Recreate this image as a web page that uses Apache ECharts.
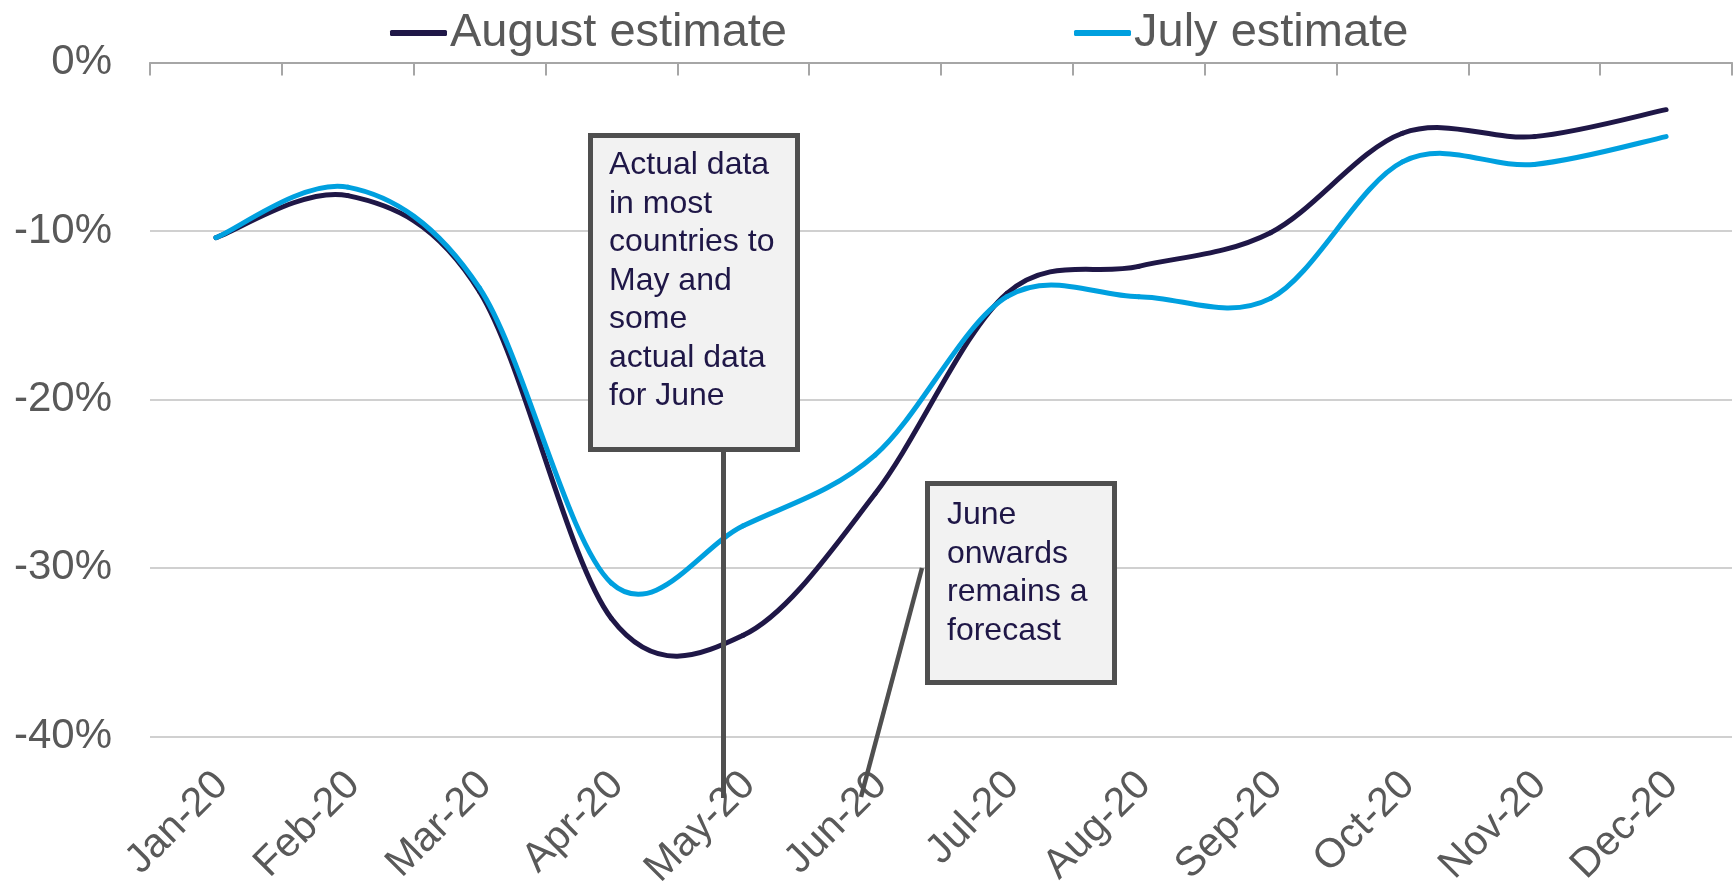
<!DOCTYPE html>
<html>
<head>
<meta charset="utf-8">
<title>GDP estimate comparison</title>
<script src="https://cdn.jsdelivr.net/npm/echarts@6/dist/echarts.min.js"></script>
<style>
  html, body { margin: 0; padding: 0; background: #ffffff; }
  #chart { width: 1734px; height: 892px; }
</style>
</head>
<body>
<div id="chart"></div>
<script>
// Monthly categories
const months = ['Jan-20', 'Feb-20', 'Mar-20', 'Apr-20', 'May-20', 'Jun-20',
                'Jul-20', 'Aug-20', 'Sep-20', 'Oct-20', 'Nov-20', 'Dec-20'];

// Percentage change, by month
const augustEstimate = [-10.4, -7.9, -13.6, -33.0, -34.0, -25.6, -13.7, -12.1, -10.1, -4.2, -4.4, -2.8];
const julyEstimate   = [-10.4, -7.4, -13.4, -30.9, -27.5, -23.3, -13.9, -13.9, -14.0, -5.9, -6.05, -4.4];

// Value axis ticks
const yMin = -40, yMax = 0, yStep = 10;

// Callout texts
const noteActual = ['Actual data', 'in most', 'countries to', 'May and', 'some', 'actual data', 'for June'];
const noteForecast = ['June', 'onwards', 'remains a', 'forecast'];

const FONT = '"Liberation Sans", Arial, Helvetica, sans-serif';
const NAVY = '#1f1747';
const BLUE = '#00a0df';
const GREY_TEXT = '#595959';
const BOX_STROKE = '#4f4f4f';

// Smoothed line drawn segment by segment: each segment i -> i+1 is a cubic
// Bezier whose control points come from the neighbouring points
// (Catmull-Rom style, one sixth of the chord between neighbours).
function smoothSegment(values, color) {
  return function (params, api) {
    const i = params.dataIndex;
    const n = values.length;
    if (i >= n - 1) return null;
    const p = (k) => api.coord([Math.max(0, Math.min(n - 1, k)), values[Math.max(0, Math.min(n - 1, k))]]);
    const p0 = p(i - 1), p1 = p(i), p2 = p(i + 1), p3 = p(i + 2);
    const t = 1 / 6;
    return {
      type: 'bezierCurve',
      shape: {
        x1: p1[0], y1: p1[1],
        cpx1: p1[0] + (p2[0] - p0[0]) * t,
        cpy1: p1[1] + (p2[1] - p0[1]) * t,
        cpx2: p2[0] - (p3[0] - p1[0]) * t,
        cpy2: p2[1] - (p3[1] - p1[1]) * t,
        x2: p2[0], y2: p2[1]
      },
      style: { stroke: color, lineWidth: 5, fill: null, lineCap: 'round' }
    };
  };
}

const chart = echarts.init(document.getElementById('chart'), null, { renderer: 'canvas' });

const option = {
  animation: false,
  backgroundColor: '#ffffff',
  textStyle: { fontFamily: FONT },
  grid: { left: 150, right: 2, top: 62.5, bottom: 151.5, containLabel: false },
  legend: {
    top: 3,
    left: 385,
    itemGap: 287,
    itemWidth: 57,
    itemHeight: 6,
    textStyle: { fontFamily: FONT, fontSize: 47, color: GREY_TEXT, lineHeight: 50, padding: [0, 0, 0, -2] },
    data: [
      { name: 'August estimate', icon: 'roundRect', itemStyle: { color: NAVY } },
      { name: 'July estimate', icon: 'roundRect', itemStyle: { color: BLUE } }
    ]
  },
  xAxis: [
    {
      type: 'category',
      data: months,
      position: 'bottom',
      boundaryGap: true,
      axisLine: { show: false },
      axisTick: { show: false },
      axisLabel: {
        rotate: 45,
        margin: 48,
        padding: [0, -8, 0, 0],
        fontFamily: FONT,
        fontSize: 41,
        color: GREY_TEXT,
        interval: 0
      },
      splitLine: { show: false }
    },
    {
      type: 'category',
      data: months,
      position: 'top',
      boundaryGap: true,
      axisLine: { show: true, lineStyle: { color: '#a6a6a6', width: 2 } },
      axisTick: { show: true, inside: true, length: 13, interval: 0, lineStyle: { color: '#a6a6a6', width: 2 } },
      axisLabel: { show: false },
      splitLine: { show: false }
    }
  ],
  yAxis: {
    type: 'value',
    min: yMin,
    max: yMax,
    interval: yStep,
    axisLine: { show: false },
    axisTick: { show: false },
    axisLabel: {
      formatter: '{value}%',
      margin: 38,
      fontFamily: FONT,
      fontSize: 42,
      color: GREY_TEXT
    },
    splitLine: { show: true, lineStyle: { color: '#c0c0c0', width: 1.5 } }
  },
  series: [
    {
      name: 'August estimate',
      type: 'custom',
      xAxisIndex: 0,
      data: augustEstimate.map((v, i) => [i, v]),
      encode: { x: 0, y: 1 },
      renderItem: smoothSegment(augustEstimate, NAVY),
      itemStyle: { color: NAVY },
      z: 3
    },
    {
      name: 'July estimate',
      type: 'custom',
      xAxisIndex: 0,
      data: julyEstimate.map((v, i) => [i, v]),
      encode: { x: 0, y: 1 },
      renderItem: smoothSegment(julyEstimate, BLUE),
      itemStyle: { color: BLUE },
      z: 4
    }
  ]
};

chart.setOption(option);

// Callout boxes with their leader lines
function calloutBox(x, y, w, h, lines, textX, textY) {
  return [
    {
      type: 'rect',
      z: 100,
      shape: { x: x, y: y, width: w, height: h },
      style: { fill: '#f2f2f2', stroke: BOX_STROKE, lineWidth: 5 }
    },
    {
      type: 'text',
      z: 101,
      x: textX,
      y: textY,
      style: {
        text: lines.join('\n'),
        font: '32px ' + FONT,
        fill: NAVY,
        lineHeight: 38.5,
        verticalAlign: 'top',
        align: 'left'
      }
    }
  ];
}

chart.setOption({
  graphic: [
    {
      type: 'line',
      z: 99,
      shape: { x1: 723.5, y1: 450, x2: 723.5, y2: 798 },
      style: { stroke: BOX_STROKE, lineWidth: 5 }
    },
    {
      type: 'line',
      z: 99,
      shape: { x1: 922, y1: 568, x2: 861, y2: 797 },
      style: { stroke: BOX_STROKE, lineWidth: 4.5 }
    }
  ].concat(
    calloutBox(590.5, 135.5, 207, 314, noteActual, 609, 146),
    calloutBox(927.5, 483.5, 187, 199, noteForecast, 947, 496)
  )
});
</script>
</body>
</html>
